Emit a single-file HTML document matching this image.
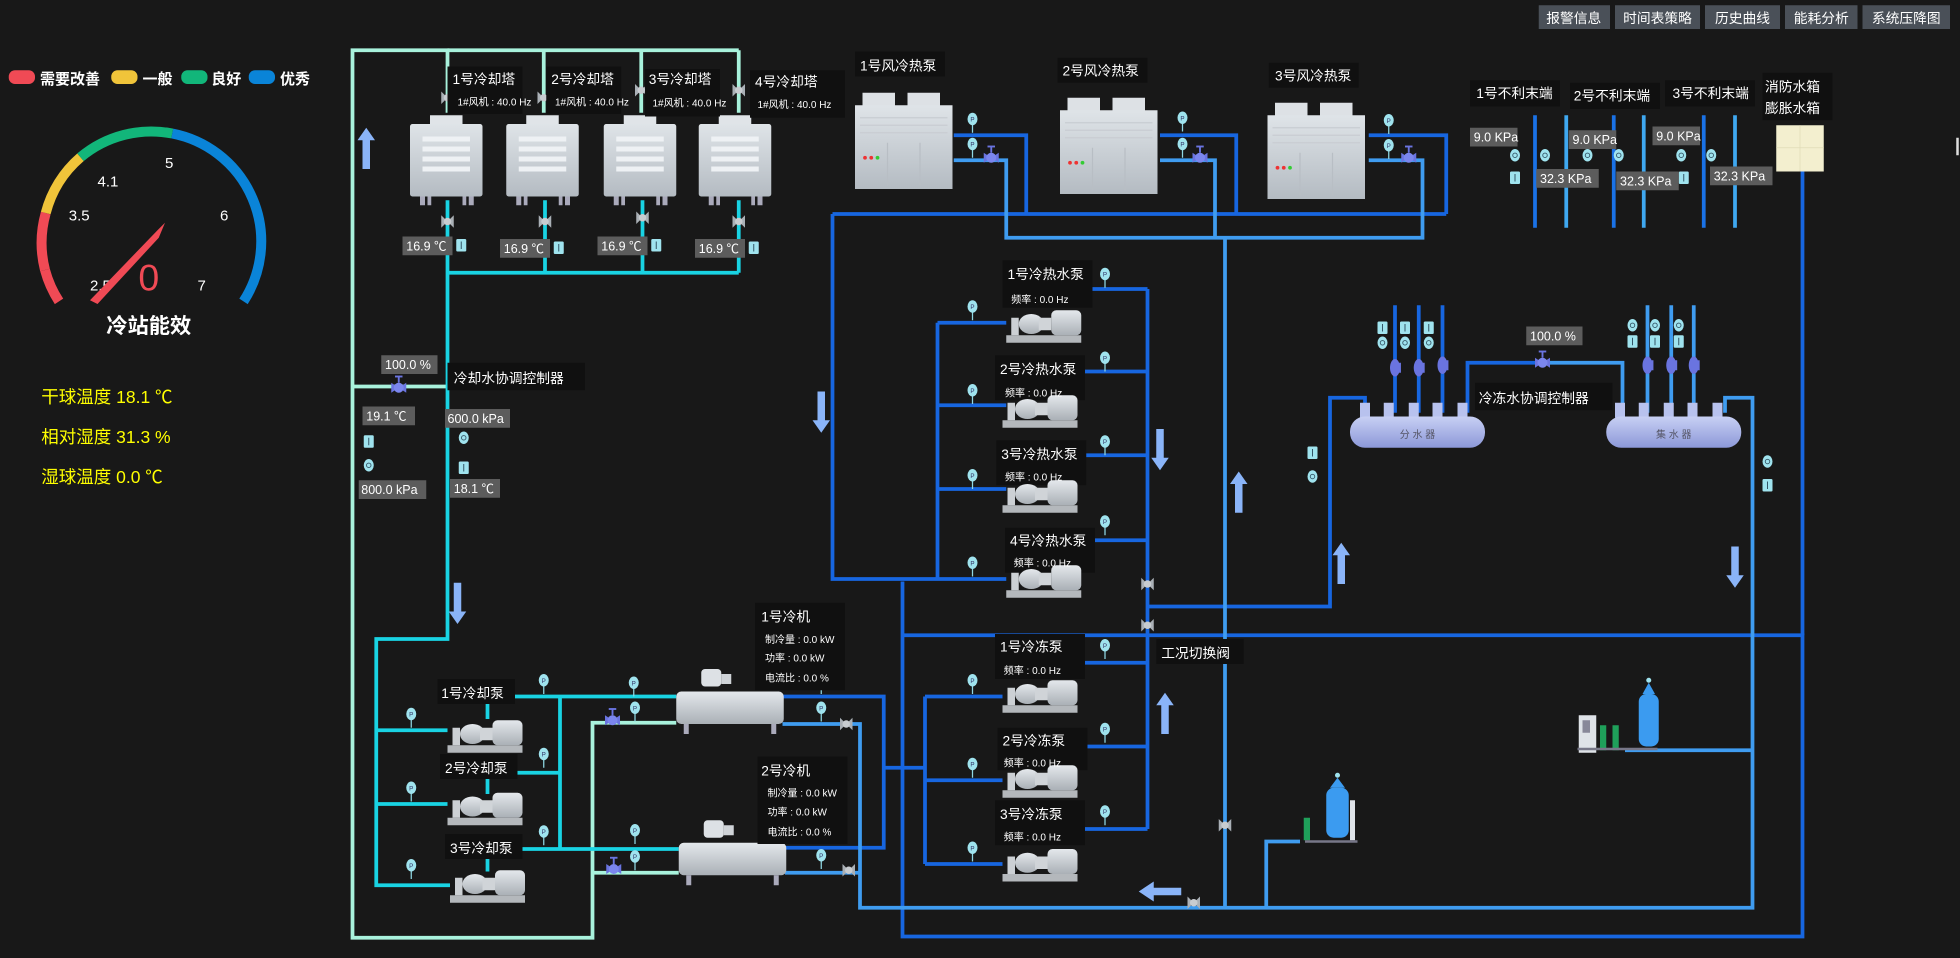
<!DOCTYPE html>
<html><head><meta charset="utf-8"><style>
html,body{margin:0;padding:0;background:#181818;}
svg{display:block;font-family:"Liberation Sans","Noto Sans CJK SC",sans-serif;}
</style></head><body>
<svg width="1960" height="958" viewBox="0 0 1568 766" xmlns="http://www.w3.org/2000/svg">
<defs>
<linearGradient id="gm" x1="0" y1="0" x2="0" y2="1"><stop offset="0" stop-color="#e4e8ec"/><stop offset="1" stop-color="#aab0b6"/></linearGradient>
<linearGradient id="gt" x1="0" y1="0" x2="0" y2="1"><stop offset="0" stop-color="#dfe4e8"/><stop offset="1" stop-color="#b4bbc2"/></linearGradient>
<linearGradient id="gd" x1="0" y1="0" x2="0" y2="1"><stop offset="0" stop-color="#c8d0f4"/><stop offset="1" stop-color="#8c98d8"/></linearGradient>
<g id="pump">
<rect x="0" y="24" width="60" height="6" fill="#b4b8bc"/>
<rect x="4" y="10" width="6" height="14" fill="#ccd0d4"/>
<ellipse cx="20" cy="15" rx="10" ry="8" fill="url(#gm)"/>
<rect x="26" y="10" width="10" height="10" fill="#d0d4d8"/>
<rect x="36" y="4" width="24" height="20" rx="4" fill="url(#gm)"/>
</g>
<g id="tower">
<rect x="16" y="0" width="26" height="8" fill="#e0e4e8"/>
<rect x="0" y="7" width="58" height="58" rx="2" fill="url(#gt)"/>
<rect x="10" y="17" width="38" height="4" fill="#eef1f4"/><rect x="10" y="25" width="38" height="4" fill="#eef1f4"/><rect x="10" y="33" width="38" height="4" fill="#eef1f4"/><rect x="10" y="41" width="38" height="4" fill="#eef1f4"/>
<rect x="8" y="65" width="4" height="7" fill="#aab"/><rect x="14" y="65" width="3" height="7" fill="#aab"/><rect x="42" y="65" width="3" height="7" fill="#aab"/><rect x="47" y="65" width="4" height="7" fill="#aab"/>
</g>
<g id="hp">
<rect x="6" y="0" width="26" height="12" fill="#dde1e5"/><rect x="42" y="0" width="26" height="12" fill="#dde1e5"/>
<rect x="0" y="10" width="78" height="67" fill="url(#gt)"/>
<line x1="4" y1="20" x2="74" y2="20" stroke="#c8cdd2"/><line x1="4" y1="26" x2="74" y2="26" stroke="#c8cdd2"/><line x1="4" y1="32" x2="74" y2="32" stroke="#c8cdd2"/>
<line x1="26" y1="40" x2="26" y2="74" stroke="#b8bec4"/><line x1="52" y1="40" x2="52" y2="74" stroke="#b8bec4"/>
<circle cx="8" cy="52" r="1.5" fill="#e33"/><circle cx="13" cy="52" r="1.5" fill="#e33"/><circle cx="18" cy="52" r="1.5" fill="#3c3"/>
</g>
<g id="chiller">
<rect x="20" y="0" width="16" height="14" rx="3" fill="#dde1e5"/>
<rect x="36" y="4" width="8" height="8" fill="#cfd3d7"/>
<rect x="0" y="18" width="86" height="26" rx="4" fill="url(#gm)"/>
<rect x="6" y="44" width="4" height="8" fill="#aab"/><rect x="76" y="44" width="4" height="8" fill="#aab"/>
</g>
<g id="ps"><line x1="0" y1="0" x2="0" y2="10" stroke="#8fd8e4" stroke-width="1"/><ellipse cx="0" cy="-1" rx="4" ry="5" fill="#9fe3ee"/><text x="0" y="1" font-size="5" fill="#336" text-anchor="middle">P</text></g>
<g id="tsq"><rect x="-4" y="-5" width="8" height="10" rx="1" fill="#9fe3ee"/><line x1="0" y1="-3" x2="0" y2="3" stroke="#356" stroke-width="0.8"/></g>
<g id="tci"><ellipse cx="0" cy="0" rx="4" ry="5" fill="#9fe3ee"/><circle cx="0" cy="0" r="1.8" fill="none" stroke="#356" stroke-width="0.7"/></g>
<g id="vg"><path d="M-5,-5 L5,5 L5,-5 L-5,5Z" fill="#aab0b6"/><circle r="3" fill="#c8ccd0"/></g>
<g id="vb"><path d="M-6,-4 L6,4 L6,-4 L-6,4Z" fill="#6a74e0"/><circle r="4" fill="#7b86ee"/><line x1="0" y1="-4" x2="0" y2="-9" stroke="#6a74e0" stroke-width="1.5"/><line x1="-3" y1="-9" x2="3" y2="-9" stroke="#6a74e0" stroke-width="1.5"/></g>
<g id="vv"><ellipse rx="4" ry="7" fill="#6a74e0"/><line x1="4" y1="-4" x2="4" y2="4" stroke="#6a74e0" stroke-width="1.5"/></g>
</defs>
<rect width="1568" height="766" fill="#181818"/>

<g font-size="11" fill="#fff" text-anchor="middle">
<rect x="1231" y="4" width="57" height="19" fill="#4a5058"/><text x="1259" y="18">报警信息</text>
<rect x="1292" y="4" width="68" height="19" fill="#4a5058"/><text x="1326" y="18">时间表策略</text>
<rect x="1364" y="4" width="60" height="19" fill="#4a5058"/><text x="1394" y="18">历史曲线</text>
<rect x="1428" y="4" width="58" height="19" fill="#4a5058"/><text x="1457" y="18">能耗分析</text>
<rect x="1490" y="4" width="70" height="19" fill="#4a5058"/><text x="1525" y="18">系统压降图</text>
</g>

<g font-size="12" font-weight="bold" fill="#fff">
<rect x="7" y="56" width="21" height="11" rx="5" fill="#f04a55"/><text x="32" y="67">需要改善</text>
<rect x="89" y="56" width="21" height="11" rx="5" fill="#f0c43a"/><text x="114" y="67">一般</text>
<rect x="145" y="56" width="21" height="11" rx="5" fill="#12b67a"/><text x="169" y="67">良好</text>
<rect x="199" y="56" width="21" height="11" rx="5" fill="#0a84d8"/><text x="224" y="67">优秀</text>
</g>

<g fill="none" stroke-width="8">
<path d="M47.2,240.9 A88,88 0 0 1 36.0,215.8" stroke="#f04a55"/>
<path d="M36.0,215.8 A88,88 0 0 1 36.6,170.2" stroke="#f04a55"/>
<path d="M36.6,170.2 A88,88 0 0 1 64.4,125.6" stroke="#f0c43a"/>
<path d="M64.4,125.6 A88,88 0 0 1 137.8,106.6" stroke="#12b67a"/>
<path d="M137.8,106.6 A88,88 0 0 1 194.8,240.9" stroke="#0a84d8"/>
</g>
<g stroke-width="1.5" id="ticks"></g>
<g font-size="12" fill="#fff">
<text x="72" y="232">2.5</text><text x="55" y="176">3.5</text><text x="78" y="149">4.1</text><text x="132" y="134">5</text><text x="176" y="176">6</text><text x="158" y="232">7</text>
</g>
<path d="M72,240 L126,184 L132,178 L127,190 L78,243Z" fill="#f04a55"/>
<text x="119" y="232" font-size="30" fill="#f04a55" text-anchor="middle">0</text>
<text x="119" y="266" font-size="17" font-weight="bold" fill="#fff" text-anchor="middle">冷站能效</text>

<g font-size="14" fill="#ffff00">
<text x="33" y="322">干球温度 18.1 ℃</text>
<text x="33" y="354">相对湿度 31.3 %</text>
<text x="33" y="386">湿球温度 0.0 ℃</text>
</g>

<g fill="none" stroke-linejoin="miter">
<g stroke="#a8f2dc" stroke-width="3">
<path d="M358,90 V40 H282 V750 H474 V578 H541"/>
<path d="M435,90 V40 M513,90 V40 M591,90 V40 M358,40 H591"/>
<path d="M474,698 H543"/>
<path d="M282,309 H358"/>
</g>
<g stroke="#19d3e3" stroke-width="3">
<path d="M358,160 V511 H301 V708 H360"/>
<path d="M436,160 V218 M514,160 V218 M591,160 V218 M358,218 H591"/>
<path d="M301,584 H358 M301,643 H358"/>
<path d="M390,557 H541 M390,618 H448 M390,679 H543 M448,557 V679"/>
<path d="M390,557 V575 M390,618 V635 M390,679 V697"/>
</g>
<g stroke="#1766e0" stroke-width="3">
<path d="M626,557 H707 V678 H628"/>
<path d="M707,614 H740 M740,557 V691 M740,557 H802 M740,624 H802 M740,691 H802"/>
<path d="M800,530 H918 M800,597 H918 M800,663 H918 M865,231 H918 M865,297 H918 M865,364 H918 M865,432 H918 M918,231 V663"/>
<path d="M918,485 H1064 V318 H1092 V330"/>
<path d="M722,465 V749 H1442 V508 H722"/>
<path d="M666,171 V463 H805 M750,258 V463 M750,258 H805 M750,324 H805 M750,391 H805"/>
<path d="M666,171 H1157 M763,108 H821 V171 M928,108 H989 V171 M1095,108 H1157 V171"/>
<path d="M1116,244 V330 M1135,244 V330 M1154,244 V330 M1174,330 V290 H1236"/>
<path d="M1442,137 V508"/>
<path d="M1228,92 V182 M1291,92 V182 M1363,92 V182" stroke="#1a72e6"/>
</g>
<g stroke="#3f9cf0" stroke-width="3">
<path d="M626,579 H688 V726 H1402 V318 H1380 V330"/>
<path d="M628,698 H688"/>
<path d="M763,128 H805 V190 H1138 V128 H1095 M928,128 H972 V190 M980,190 V726"/>
<path d="M1013,726 V673 H1040"/>
<path d="M1300,600 H1402"/>
<path d="M1236,290 H1298 V330 M1318,244 V330 M1337,244 V330 M1355,244 V330"/>
<path d="M1253,92 V182 M1315,92 V182 M1388,92 V182" stroke="#3fa8f0"/>
</g>
</g>

<g fill="#8ab4f8">
<path d="M290,135 V112 H286 L293,102 L300,112 H296 V135Z"/>
<path d="M363,466 V489 H359 L366,499 L373,489 H369 V466Z"/>
<path d="M654,313 V336 H650 L657,346 L664,336 H660 V313Z"/>
<path d="M925,343 V366 H921 L928,376 L935,366 H931 V343Z"/>
<path d="M988,410 V387 H984 L991,377 L998,387 H994 V410Z"/>
<path d="M1070,467 V444 H1066 L1073,434 L1080,444 H1076 V467Z"/>
<path d="M1385,437 V460 H1381 L1388,470 L1395,460 H1391 V437Z"/>
<path d="M929,587 V564 H925 L932,554 L939,564 H935 V587Z"/>
<path d="M945,710 H923 V705 L911,713 L923,721 V716 H945Z"/>
</g>

<use href="#tower" x="328" y="92"/><use href="#tower" x="405" y="92"/><use href="#tower" x="483" y="92"/><use href="#tower" x="559" y="92"/>
<use href="#hp" x="684" y="74"/><use href="#hp" x="848" y="78"/><use href="#hp" x="1014" y="82"/>
<use href="#chiller" x="541" y="535"/><use href="#chiller" x="543" y="656"/>

<g>
<g fill="#b8c2ee"><rect x="1088" y="322" width="8" height="12"/><rect x="1107" y="322" width="8" height="12"/><rect x="1127" y="322" width="8" height="12"/><rect x="1146" y="322" width="8" height="12"/><rect x="1166" y="322" width="8" height="12"/>
<rect x="1292" y="322" width="8" height="12"/><rect x="1311" y="322" width="8" height="12"/><rect x="1331" y="322" width="8" height="12"/><rect x="1350" y="322" width="8" height="12"/><rect x="1370" y="322" width="8" height="12"/></g>
<rect x="1080" y="333" width="108" height="25" rx="12" fill="url(#gd)"/>
<rect x="1285" y="333" width="108" height="25" rx="12" fill="url(#gd)"/>
<text x="1134" y="350" font-size="8" fill="#556" text-anchor="middle">分 水 器</text>
<text x="1339" y="350" font-size="8" fill="#556" text-anchor="middle">集 水 器</text>
</g>
<use href="#vv" x="1116" y="294"/><use href="#vv" x="1135" y="294"/><use href="#vv" x="1154" y="292"/>
<use href="#vv" x="1318" y="292"/><use href="#vv" x="1337" y="292"/><use href="#vv" x="1355" y="292"/>
<use href="#vb" x="1234" y="290"/>
<g><use href="#tsq" x="1106" y="262"/><use href="#tsq" x="1124" y="262"/><use href="#tsq" x="1143" y="262"/>
<use href="#tci" x="1106" y="274"/><use href="#tci" x="1124" y="274"/><use href="#tci" x="1143" y="274"/>
<use href="#tci" x="1306" y="260"/><use href="#tci" x="1324" y="260"/><use href="#tci" x="1343" y="260"/>
<use href="#tsq" x="1306" y="273"/><use href="#tsq" x="1324" y="273"/><use href="#tsq" x="1343" y="273"/>
<use href="#tsq" x="1050" y="362"/><use href="#tci" x="1050" y="381"/><use href="#tci" x="1414" y="369"/><use href="#tsq" x="1414" y="388"/></g>

<rect x="1421" y="100" width="38" height="37" fill="#f3efcf"/>
<path d="M1440,100 V137 M1421,118 H1459" stroke="#e0dcb8" stroke-width="0.6"/>
<g><rect x="1263" y="572" width="14" height="30" fill="#dfe3e8"/><rect x="1266" y="576" width="6" height="10" fill="#889"/>
<rect x="1280" y="580" width="5" height="20" fill="#1fa05a"/><rect x="1290" y="580" width="5" height="20" fill="#1fa05a"/>
<rect x="1311" y="555" width="16" height="42" rx="6" fill="#3b9bf0"/><path d="M1314,555 L1319,546 L1324,555Z" fill="#3b9bf0"/><circle cx="1319" cy="544" r="2" fill="#9fe3ee"/>
<rect x="1262" y="598" width="64" height="2" fill="#778"/></g>
<g><rect x="1061" y="630" width="18" height="40" rx="6" fill="#3b9bf0"/><path d="M1064,630 L1070,622 L1076,630Z" fill="#3b9bf0"/><circle cx="1070" cy="620" r="2" fill="#9fe3ee"/>
<rect x="1080" y="640" width="4" height="32" fill="#dfe3e8"/><rect x="1043" y="654" width="5" height="18" fill="#1fa05a"/><rect x="1044" y="672" width="42" height="2" fill="#778"/></g>

<use href="#vg" x="358" y="78"/><use href="#vg" x="435" y="78"/><use href="#vg" x="513" y="72"/><use href="#vg" x="591" y="72"/>
<use href="#vg" x="358" y="177"/><use href="#vg" x="436" y="177"/><use href="#vg" x="514" y="174"/><use href="#vg" x="591" y="177"/>
<use href="#vb" x="319" y="310"/>
<use href="#vb" x="793" y="126"/><use href="#vb" x="960" y="126"/><use href="#vb" x="1127" y="126"/>
<use href="#vb" x="490" y="576"/><use href="#vb" x="491" y="695"/>
<use href="#vg" x="677" y="579"/><use href="#vg" x="679" y="696"/>
<use href="#vg" x="918" y="467"/><use href="#vg" x="918" y="500"/><use href="#vg" x="980" y="660"/><use href="#vg" x="955" y="722"/>

<g>
<use href="#tsq" x="369" y="196"/><use href="#tsq" x="447" y="198"/><use href="#tsq" x="525" y="196"/><use href="#tsq" x="603" y="198"/>
<use href="#tsq" x="295" y="353"/><use href="#tci" x="295" y="372"/><use href="#tci" x="371" y="350"/><use href="#tsq" x="371" y="374"/>
<use href="#ps" x="778" y="96"/><use href="#ps" x="778" y="116"/><use href="#ps" x="946" y="95"/><use href="#ps" x="946" y="116"/><use href="#ps" x="1111" y="97"/><use href="#ps" x="1111" y="117"/>
<use href="#tci" x="1212" y="124"/><use href="#tci" x="1236" y="124"/><use href="#tci" x="1270" y="124"/><use href="#tci" x="1295" y="124"/><use href="#tci" x="1345" y="124"/><use href="#tci" x="1369" y="124"/>
<use href="#tsq" x="1212" y="142"/><use href="#tsq" x="1347" y="142"/>
<use href="#ps" x="884" y="220"/><use href="#ps" x="884" y="287"/><use href="#ps" x="884" y="354"/><use href="#ps" x="884" y="418"/>
<use href="#ps" x="778" y="246"/><use href="#ps" x="778" y="313"/><use href="#ps" x="778" y="381"/><use href="#ps" x="778" y="451"/>
<use href="#ps" x="884" y="517"/><use href="#ps" x="884" y="584"/><use href="#ps" x="884" y="650"/>
<use href="#ps" x="778" y="545"/><use href="#ps" x="778" y="612"/><use href="#ps" x="778" y="679"/>
<use href="#ps" x="435" y="545"/><use href="#ps" x="435" y="604"/><use href="#ps" x="435" y="666"/>
<use href="#ps" x="329" y="572"/><use href="#ps" x="329" y="631"/><use href="#ps" x="329" y="693"/>
<use href="#ps" x="507" y="547"/><use href="#ps" x="508" y="567"/><use href="#ps" x="508" y="665"/><use href="#ps" x="508" y="686"/>
<use href="#ps" x="657" y="545"/><use href="#ps" x="657" y="567"/><use href="#ps" x="658" y="665"/><use href="#ps" x="657" y="685"/>
</g>

<g fill="#101010">
<rect x="358" y="53" width="60" height="38"/><rect x="437" y="53" width="60" height="38"/><rect x="516" y="55" width="60" height="38"/><rect x="600" y="56" width="76" height="38"/>
<rect x="358" y="290" width="110" height="22"/><rect x="684" y="41" width="72" height="20"/><rect x="846" y="46" width="72" height="20"/><rect x="1015" y="50" width="72" height="20"/>
<rect x="1176" y="64" width="72" height="21"/><rect x="1256" y="66" width="72" height="21"/><rect x="1332" y="64" width="72" height="21"/><rect x="1410" y="58" width="56" height="38"/>
<rect x="802" y="208" width="72" height="38"/><rect x="796" y="284" width="72" height="36"/><rect x="797" y="352" width="72" height="36"/><rect x="804" y="422" width="72" height="36"/>
<rect x="796" y="507" width="72" height="36"/><rect x="798" y="582" width="72" height="34"/><rect x="796" y="640" width="72" height="36"/>
<rect x="925" y="511" width="70" height="20"/><rect x="1180" y="306" width="110" height="22"/>
<rect x="604" y="482" width="72" height="70"/><rect x="606" y="605" width="72" height="70"/>
<rect x="350" y="543" width="62" height="20"/><rect x="352" y="603" width="62" height="20"/><rect x="356" y="667" width="62" height="20"/>
</g>

<use href="#pump" x="358" y="572"/><use href="#pump" x="358" y="630"/><use href="#pump" x="360" y="692"/>
<use href="#pump" x="805" y="244"/><use href="#pump" x="802" y="312"/><use href="#pump" x="802" y="380"/><use href="#pump" x="805" y="448"/>
<use href="#pump" x="802" y="540"/><use href="#pump" x="802" y="608"/><use href="#pump" x="802" y="675"/>

<g font-size="11" fill="#fff">
<text x="362" y="67">1号冷却塔</text><text x="441" y="67">2号冷却塔</text><text x="519" y="67">3号冷却塔</text><text x="604" y="69">4号冷却塔</text>
<text x="688" y="56">1号风冷热泵</text><text x="850" y="60">2号风冷热泵</text><text x="1020" y="64">3号风冷热泵</text>
<text x="1181" y="78">1号不利末端</text><text x="1259" y="80">2号不利末端</text><text x="1338" y="78">3号不利末端</text>
<text x="1412" y="73">消防水箱</text><text x="1412" y="90">膨胀水箱</text>
<text x="363" y="306">冷却水协调控制器</text><text x="1183" y="322">冷冻水协调控制器</text><text x="929" y="526">工况切换阀</text>
<text x="806" y="223">1号冷热水泵</text><text x="800" y="299">2号冷热水泵</text><text x="801" y="367">3号冷热水泵</text><text x="808" y="436">4号冷热水泵</text>
<text x="800" y="521">1号冷冻泵</text><text x="802" y="596">2号冷冻泵</text><text x="800" y="655">3号冷冻泵</text>
<text x="609" y="497">1号冷机</text><text x="609" y="620">2号冷机</text>
<text x="353" y="558">1号冷却泵</text><text x="356" y="618">2号冷却泵</text><text x="360" y="682">3号冷却泵</text>
</g>
<g font-size="8" fill="#fff">
<text x="366" y="84">1#风机 : 40.0 Hz</text><text x="444" y="84">1#风机 : 40.0 Hz</text><text x="522" y="85">1#风机 : 40.0 Hz</text><text x="606" y="86">1#风机 : 40.0 Hz</text>
<text x="809" y="242">频率 : 0.0 Hz</text><text x="804" y="317">频率 : 0.0 Hz</text><text x="804" y="384">频率 : 0.0 Hz</text><text x="811" y="453">频率 : 0.0 Hz</text>
<text x="803" y="539">频率 : 0.0 Hz</text><text x="803" y="613">频率 : 0.0 Hz</text><text x="803" y="672">频率 : 0.0 Hz</text>
<text x="612" y="514">制冷量 : 0.0 kW</text><text x="612" y="529">功率 : 0.0 kW</text><text x="612" y="545">电流比 : 0.0 %</text>
<text x="614" y="637">制冷量 : 0.0 kW</text><text x="614" y="652">功率 : 0.0 kW</text><text x="614" y="668">电流比 : 0.0 %</text>
</g>
<g fill="#5c5c5c">
<rect x="322" y="189" width="40" height="15"/><rect x="400" y="191" width="40" height="15"/><rect x="478" y="189" width="40" height="15"/><rect x="556" y="191" width="40" height="15"/>
<rect x="305" y="284" width="45" height="15"/><rect x="290" y="325" width="42" height="15"/><rect x="356" y="327" width="52" height="15"/><rect x="287" y="384" width="54" height="15"/><rect x="360" y="383" width="40" height="15"/>
<rect x="1176" y="102" width="38" height="15"/><rect x="1255" y="104" width="38" height="15"/><rect x="1322" y="101" width="38" height="15"/>
<rect x="1229" y="135" width="50" height="15"/><rect x="1293" y="137" width="50" height="15"/><rect x="1368" y="133" width="50" height="15"/>
<rect x="1221" y="261" width="45" height="15"/>
</g>
<g font-size="10" fill="#fff">
<text x="325" y="200">16.9 ℃</text><text x="403" y="202">16.9 ℃</text><text x="481" y="200">16.9 ℃</text><text x="559" y="202">16.9 ℃</text>
<text x="308" y="295">100.0 %</text><text x="293" y="336">19.1 ℃</text><text x="358" y="338">600.0 kPa</text><text x="289" y="395">800.0 kPa</text><text x="363" y="394">18.1 ℃</text>
<text x="1179" y="113">9.0 KPa</text><text x="1258" y="115">9.0 KPa</text><text x="1325" y="112">9.0 KPa</text>
<text x="1232" y="146">32.3 KPa</text><text x="1296" y="148">32.3 KPa</text><text x="1371" y="144">32.3 KPa</text>
<text x="1224" y="272">100.0 %</text>
</g>
<rect x="1565" y="110" width="2" height="14" fill="#ddd"/>
<script>
(function(){var g=document.getElementById('ticks');var cx=121,cy=193,s='';
for(var i=0;i<=50;i++){var a=(213-246*i/50)*Math.PI/180;var r1=82,r2=(i%5==0)?72:77;
var col=i/50<(213-165)/246?'#f04a55':i/50<(213-130)/246?'#f0c43a':i/50<(213-79)/246?'#12b67a':'#0a84d8';
s+='<line x1="'+(cx+r1*Math.cos(a)).toFixed(1)+'" y1="'+(cy-r1*Math.sin(a)).toFixed(1)+'" x2="'+(cx+r2*Math.cos(a)).toFixed(1)+'" y2="'+(cy-r2*Math.sin(a)).toFixed(1)+'" stroke="'+col+'"/>';}
g.innerHTML=s;})();
</script>
</svg>
</body></html>
